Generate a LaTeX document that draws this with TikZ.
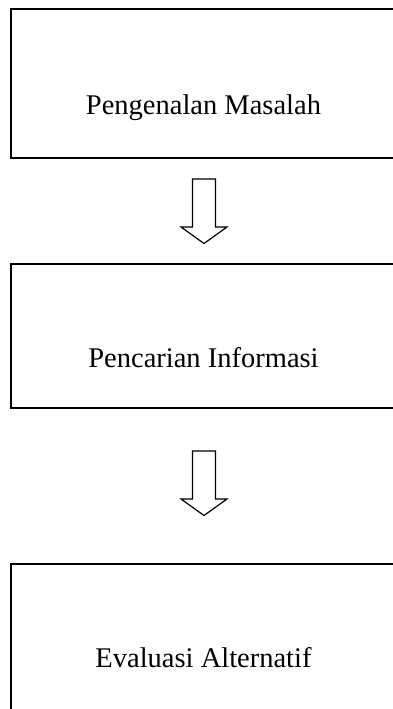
\documentclass[tikz,border=0pt]{standalone}
\usepackage{fontspec}
\setmainfont{Liberation Serif}
\begin{document}
\begin{tikzpicture}[x=1pt,y=-1pt,
  box/.style={draw=black, line width=2pt, rectangle, inner sep=0pt, outer sep=0pt},
  lbl/.style={anchor=base, inner sep=0pt, font=\fontsize{28.5}{34}\selectfont},
  arrowline/.style={draw=black, line width=1.2pt, line join=miter, fill=white},
  blockarrow/.pic={\draw[arrowline] (-11.5,0) -- (11.5,0) -- (11.5,48) -- (23,48) -- (0,64.5) -- (-23,48) -- (-11.5,48) -- cycle;}
]
\useasboundingbox (0,0) rectangle (393,709);
\clip (0,0) rectangle (393,709);
% boxes (open to the right, cut by the page edge)
\node[box, minimum width=420pt, minimum height=148.5pt] (b1) at (221,83.75) {};
\node[box, minimum width=420pt, minimum height=143.5pt] (b2) at (221,335.75) {};
\node[box, minimum width=420pt, minimum height=196pt] (b3) at (221,662) {};
% texts
\node[lbl] (t1) at (203.5,114) {Pengenalan Masalah};
\node[lbl] (t2) at (203.5,367) {Pencarian Informasi};
\node[lbl] (t3) at (203.5,667) {Evaluasi Alternatif};
% block arrows
\coordinate (a1) at (204,179);
\coordinate (a2) at (204,451);
\pic at (a1) {blockarrow};
\pic at (a2) {blockarrow};
\end{tikzpicture}
\end{document}
